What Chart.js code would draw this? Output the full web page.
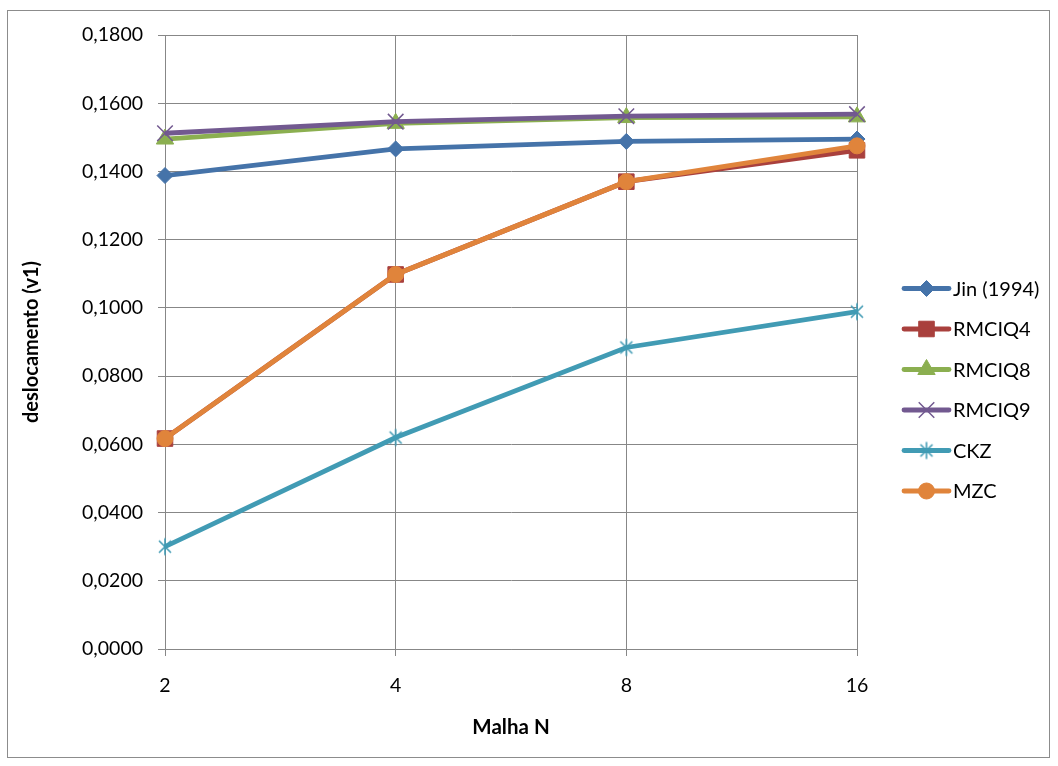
<!DOCTYPE html>
<html><head><meta charset="utf-8">
<script src="https://cdn.jsdelivr.net/npm/chart.js@4/dist/chart.umd.min.js"></script>
<style>html,body{margin:0;padding:0;background:#fff}#wrap{width:1058px;height:766px;position:relative}</style>
</head><body><div id="wrap"><canvas id="c" width="1058" height="766"></canvas></div>
<script>
const categories = ['2', '4', '8', '16'];
const seriesNames = ['Jin (1994)', 'RMCIQ4', 'RMCIQ8', 'RMCIQ9', 'CKZ', 'MZC'];
const jin    = [0.1388, 0.1466, 0.1488, 0.1495];
const rmciq4 = [0.0617, 0.1098, 0.1370, 0.1462];
const rmciq8 = [0.1495, 0.1541, 0.1558, 0.1560];
const rmciq9 = [0.1512, 0.1546, 0.1562, 0.1568];
const ckz    = [0.0300, 0.0620, 0.0884, 0.0989];
const mzc    = [0.0617, 0.1098, 0.1370, 0.1475];
const yMin = 0, yMax = 0.18, yStep = 0.02;

const FONT = 'Lato, "Open Sans", sans-serif';
const colors = ['#4573A9', '#A9403D', '#8BAF50', '#725990', '#419BB4', '#E0843B'];

function asterisk(color) {
  const c = document.createElement('canvas');
  c.width = 20; c.height = 20;
  const g = c.getContext('2d');
  g.strokeStyle = color; g.lineWidth = 1.6;
  g.beginPath();
  g.moveTo(4, 4); g.lineTo(16, 16);
  g.moveTo(16, 4); g.lineTo(4, 16);
  g.moveTo(10, 1.5); g.lineTo(10, 18.5);
  g.stroke();
  return c;
}

const styles = [
  { pointStyle: 'rectRot', r: 8, bw: 1 },
  { pointStyle: 'rect', r: 11, bw: 1 },
  { pointStyle: 'triangle', r: 10, bw: 1 },
  { pointStyle: 'crossRot', r: 11, bw: 1.5 },
  { pointStyle: asterisk(colors[4]), r: 10, bw: 1 },
  { pointStyle: 'circle', r: 8, bw: 1 }
];
const values = [jin, rmciq4, rmciq8, rmciq9, ckz, mzc];

const datasets = values.map((v, i) => ({
  label: seriesNames[i],
  data: v,
  borderColor: colors[i],
  backgroundColor: colors[i],
  borderWidth: 4.8,
  pointStyle: styles[i].pointStyle,
  pointRadius: styles[i].r,
  pointHoverRadius: styles[i].r,
  pointBorderWidth: styles[i].bw,
  pointBorderColor: colors[i],
  pointBackgroundColor: colors[i],
  tension: 0,
  fill: false,
  clip: false,
  order: values.length - 1 - i
}));

const framePlugin = {
  id: 'frame',
  beforeDraw(chart) {
    const ctx = chart.ctx;
    ctx.save();
    ctx.fillStyle = '#fff';
    ctx.fillRect(0, 0, chart.width, chart.height);
    ctx.strokeStyle = '#8c8c8c';
    ctx.lineWidth = 1;
    ctx.strokeRect(7.5, 10.5, 1042, 747);
    ctx.restore();
  }
};

const legendPlugin = {
  id: 'customLegend',
  afterDraw(chart) {
    const ctx = chart.ctx;
    ctx.save();
    chart.data.datasets.forEach((ds, i) => {
      const y = 288.5 + i * 40.5;
      ctx.strokeStyle = ds.borderColor;
      ctx.lineWidth = ds.borderWidth;
      ctx.lineCap = 'round';
      ctx.beginPath();
      ctx.moveTo(904, y); ctx.lineTo(949, y);
      ctx.stroke();
      ctx.lineCap = 'butt';
      ctx.fillStyle = ds.pointBackgroundColor;
      ctx.strokeStyle = ds.pointBorderColor;
      ctx.lineWidth = ds.pointBorderWidth;
      Chart.helpers.drawPoint(ctx, {
        pointStyle: ds.pointStyle, radius: ds.pointRadius, rotation: 0, borderWidth: ds.pointBorderWidth
      }, 926.5, y);
      ctx.fillStyle = '#000';
      ctx.font = '20px ' + FONT;
      ctx.textBaseline = 'middle';
      ctx.textAlign = 'left';
      ctx.fillText(ds.label, 953, y + 1);
    });
    ctx.restore();
  }
};

new Chart(document.getElementById('c'), {
  type: 'line',
  data: { labels: categories, datasets },
  plugins: [framePlugin, legendPlugin],
  options: {
    responsive: false,
    animation: false,
    devicePixelRatio: 1,
    layout: { padding: { top: 35, right: 201, left: 0, bottom: 0 } },
    plugins: { legend: { display: false }, tooltip: { enabled: false } },
    scales: {
      x: {
        type: 'category',
        offset: false,
        grid: { color: '#878787', lineWidth: 1, tickLength: 7, drawTicks: true },
        border: { color: '#878787' },
        ticks: { color: '#000', font: { family: FONT, size: 19.5 }, padding: 18, maxRotation: 0 },
        title: { display: true, text: 'Malha N', color: '#000', font: { family: FONT, size: 20.5, weight: 'bold' }, padding: { top: 0, bottom: 26 } },
        afterFit(s) { s.height = 117; }
      },
      y: {
        min: yMin, max: yMax,
        grid: { color: '#878787', lineWidth: 1, tickLength: 7 },
        border: { color: '#878787' },
        ticks: {
          stepSize: yStep, color: '#000', font: { family: FONT, size: 19.5 }, padding: 15,
          callback: v => v.toFixed(4).replace('.', ',')
        },
        title: { display: true, text: 'deslocamento (v1)', color: '#000', font: { family: FONT, size: 20, weight: 'bold' }, padding: { top: 20, bottom: 0 } },
        afterFit(s) { s.width = 165; }
      }
    }
  }
});
</script>
</body></html>
